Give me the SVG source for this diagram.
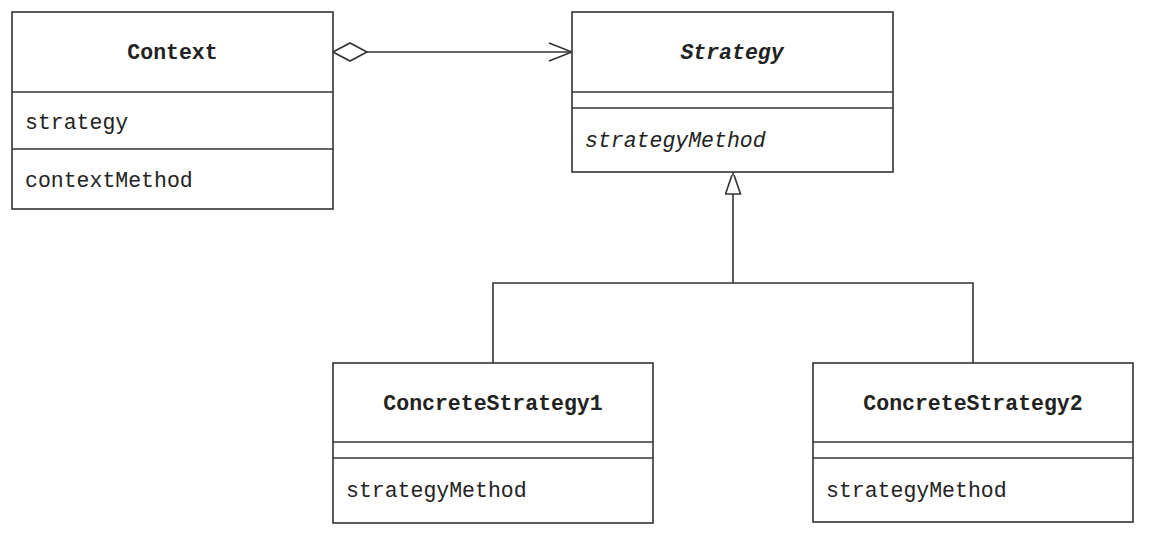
<svg xmlns="http://www.w3.org/2000/svg" width="1150" height="540" viewBox="0 0 1150 540">
<style>
.box{fill:#fff;stroke:#333;stroke-width:1.6}
.ln{stroke:#333;stroke-width:1.6;fill:none}
.t{font-family:"Liberation Mono","Courier New",monospace;font-size:21.5px;fill:#222}
.b{font-weight:bold}
.c{text-anchor:middle}
.i{font-style:italic}
</style>
<defs>
<marker id="open" markerWidth="26" markerHeight="22" refX="24" refY="10" orient="auto" markerUnits="userSpaceOnUse">
<path d="M1,1 L24,10 L1,19" fill="none" stroke="#333" stroke-width="1.6"/>
</marker>
<marker id="diamond" markerWidth="38" markerHeight="22" refX="1" refY="10" orient="auto" markerUnits="userSpaceOnUse">
<path d="M1,10 L18,1 L35,10 L18,19 Z" fill="#fff" stroke="#333" stroke-width="1.6"/>
</marker>
<marker id="tri" markerWidth="20" markerHeight="26" refX="23" refY="8.5" orient="auto" markerUnits="userSpaceOnUse">
<path d="M23,8.5 L1,1 L1,16 Z" fill="#fff" stroke="#333" stroke-width="1.6"/>
</marker>
</defs>
<rect width="1150" height="540" fill="#fff"/>
<g id="connectors">
<line class="ln" x1="333" y1="52" x2="572" y2="52" marker-start="url(#diamond)" marker-end="url(#open)"/>
<polyline class="ln" points="493,363 493,283 973,283 973,363"/>
<line class="ln" x1="733" y1="283" x2="733" y2="172" marker-end="url(#tri)"/>
</g>
<g id="context">
<rect class="box" x="12" y="12" width="321" height="197"/>
<line class="ln" x1="12" y1="92" x2="333" y2="92"/>
<line class="ln" x1="12" y1="149" x2="333" y2="149"/>
<text class="t b c" x="172.5" y="59">Context</text>
<text class="t" x="25" y="129">strategy</text>
<text class="t" x="25" y="187">contextMethod</text>
</g>
<g id="strategy">
<rect class="box" x="572" y="12" width="321" height="160"/>
<line class="ln" x1="572" y1="92" x2="893" y2="92"/>
<line class="ln" x1="572" y1="108" x2="893" y2="108"/>
<text class="t b i c" x="732" y="59">Strategy</text>
<text class="t i" x="585" y="147">strategyMethod</text>
</g>
<g id="concrete1">
<rect class="box" x="333" y="363" width="320" height="160"/>
<line class="ln" x1="333" y1="442" x2="653" y2="442"/>
<line class="ln" x1="333" y1="458" x2="653" y2="458"/>
<text class="t b c" x="493" y="410">ConcreteStrategy1</text>
<text class="t" x="346" y="497">strategyMethod</text>
</g>
<g id="concrete2">
<rect class="box" x="813" y="363" width="320" height="159"/>
<line class="ln" x1="813" y1="442" x2="1133" y2="442"/>
<line class="ln" x1="813" y1="458" x2="1133" y2="458"/>
<text class="t b c" x="973" y="410">ConcreteStrategy2</text>
<text class="t" x="826" y="497">strategyMethod</text>
</g>
</svg>
